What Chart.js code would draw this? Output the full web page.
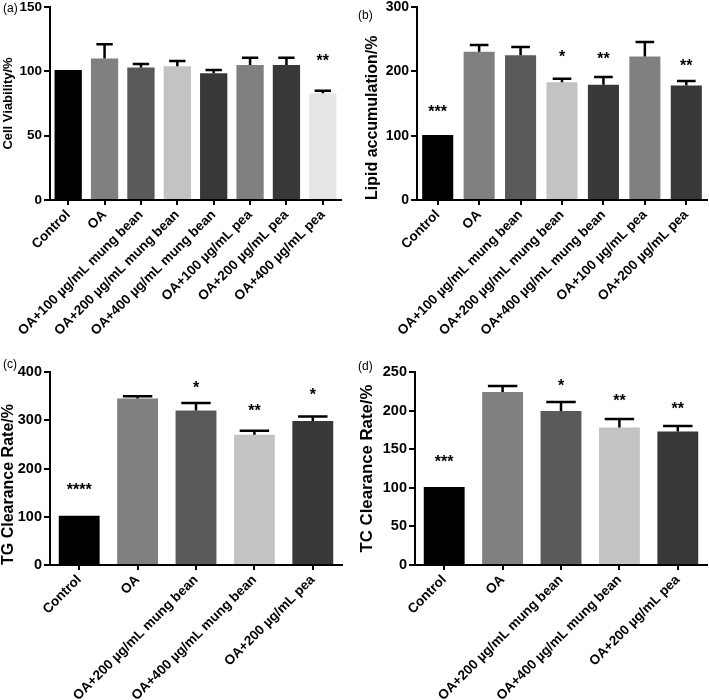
<!DOCTYPE html>
<html>
<head>
<meta charset="utf-8">
<script src="https://cdn.jsdelivr.net/npm/chart.js@4.4.0/dist/chart.umd.min.js"></script>
<style>
  body { margin: 0; background: #fff; width: 709px; height: 700px; position: relative; overflow: hidden; }
  canvas { position: absolute; }
  .tag { position: absolute; z-index: 2; font: 12px "Liberation Sans", Arial, sans-serif; color: #000; }
</style>
</head>
<body>
<canvas id="chartA" width="355" height="370" style="left:0;top:-12px"></canvas>
<canvas id="chartB" width="354" height="370" style="left:355px;top:-12px"></canvas>
<canvas id="chartC" width="355" height="350" style="left:0;top:350px"></canvas>
<canvas id="chartD" width="354" height="350" style="left:355px;top:350px"></canvas>

<div class="tag" style="left:3px;top:1px">(a)</div>
<div class="tag" style="left:358px;top:8px">(b)</div>
<div class="tag" style="left:3px;top:357px">(c)</div>
<div class="tag" style="left:358px;top:359px">(d)</div>

<script>
// --- data ---
const groupsA = ['Control', 'OA', 'OA+100 µg/mL mung bean', 'OA+200 µg/mL mung bean', 'OA+400 µg/mL mung bean',
                 'OA+100 µg/mL pea', 'OA+200 µg/mL pea', 'OA+400 µg/mL pea'];
const viability = [101, 110, 103, 104, 98.5, 105, 105, 83];
const viabilitySd = [0, 11, 2.7, 4, 2.5, 5.6, 5.6, 2];
const viabilityStars = ['', '', '', '', '', '', '', '**'];
const viabilityStarAt = [0, 0, 0, 0, 0, 0, 0, 111];

const groupsB = ['Control', 'OA', 'OA+100 µg/mL mung bean', 'OA+200 µg/mL mung bean', 'OA+400 µg/mL mung bean',
                 'OA+100 µg/mL pea', 'OA+200 µg/mL pea'];
const lipid = [101, 230.5, 225, 183, 179, 223, 178];
const lipidSd = [0, 10.5, 13, 5.6, 12, 22.6, 7];
const lipidStars = ['***', '', '', '*', '**', '', '**'];
const lipidStarAt = [143, 0, 0, 228, 225, 0, 215];

const groupsCD = ['Control', 'OA', 'OA+200 µg/mL mung bean', 'OA+400 µg/mL mung bean', 'OA+200 µg/mL pea'];
const tgClear = [102, 345, 320, 270, 298.5];
const tgSd = [0, 4.5, 16, 8, 9.5];
const tgStars = ['****', '', '*', '**', '*'];
const tgStarAt = [163, 0, 376, 327, 360];

const tcClear = [101, 224, 199.5, 178, 173];
const tcSd = [0, 8, 11.5, 11, 7];
const tcStars = ['***', '', '*', '**', '**'];
const tcStarAt = [139, 0, 237, 218, 207];

// --- палитра ---
const greys8 = ['#000000', '#808080', '#595959', '#c3c3c3', '#383838', '#808080', '#383838', '#e6e6e6'];
const greys5 = ['#000000', '#808080', '#5a5a5a', '#c3c3c3', '#383838'];

const FONT = '"Liberation Sans", Arial, sans-serif';

// error bars + significance stars
function marksPlugin(values, sd, stars, starAt, capRatio) {
    return {
        id: 'marks',
        afterDatasetsDraw(chart) {
            const ctx = chart.ctx;
            const y = chart.scales.y;
            const bars = chart.getDatasetMeta(0).data;
            ctx.save();
            ctx.strokeStyle = '#000';
            ctx.fillStyle = '#000';
            ctx.lineWidth = 2.5;
            ctx.font = 'bold 16px ' + FONT;
            ctx.textAlign = 'center';
            ctx.textBaseline = 'alphabetic';
            bars.forEach((bar, i) => {
                if (sd[i]) {
                    const top = y.getPixelForValue(values[i] + sd[i]);
                    const half = bar.width * capRatio / 2;
                    ctx.beginPath();
                    ctx.moveTo(bar.x, bar.y);
                    ctx.lineTo(bar.x, top);
                    ctx.moveTo(bar.x - half, top);
                    ctx.lineTo(bar.x + half, top);
                    ctx.stroke();
                }
                if (stars[i]) {
                    ctx.fillText(stars[i], bar.x, y.getPixelForValue(starAt[i]) + 9);
                }
            });
            ctx.restore();
        }
    };
}

function drawPanel(id, p) {
    new Chart(document.getElementById(id), {
        type: 'bar',
        data: {
            labels: p.labels,
            datasets: [{
                data: p.values,
                backgroundColor: p.colors,
                borderWidth: 0,
                categoryPercentage: 1,
                barPercentage: p.barPct
            }]
        },
        options: {
            responsive: false,
            animation: false,
            devicePixelRatio: 1,
            layout: { padding: { top: p.padTop, right: p.padRight, left: 0, bottom: 0 } },
            plugins: { legend: { display: false }, tooltip: { enabled: false } },
            scales: {
                x: {
                    z: 1,
                    grid: { offset: false, drawOnChartArea: false, tickLength: 5, color: '#000', lineWidth: 2 },
                    border: { color: '#000', width: 2 },
                    ticks: {
                        color: '#000', autoSkip: false, maxRotation: 45, minRotation: 45, padding: 2,
                        font: { family: FONT, weight: 'bold', size: p.xFont }
                    },
                    afterFit: s => { s.height = p.xHeight; }
                },
                y: {
                    z: 1,
                    min: 0, max: p.yMax,
                    grid: { drawOnChartArea: false, tickLength: 6, color: '#000', lineWidth: 2 },
                    border: { color: '#000', width: 2 },
                    ticks: {
                        stepSize: p.yStep, color: '#000', padding: 2,
                        font: { family: FONT, weight: 'bold', size: p.yFont, lineHeight: 1 }
                    },
                    title: {
                        display: true, text: p.yTitle, color: '#000', align: p.titleAlign,
                        padding: { top: p.titlePad, bottom: 0 },
                        font: { family: FONT, weight: 'bold', size: p.titleFont, lineHeight: 1 }
                    },
                    afterFit: s => { s.width = p.yWidth; }
                }
            }
        },
        plugins: [marksPlugin(p.values, p.sd, p.stars, p.starAt, p.cap)]
    });
}

drawPanel('chartA', {
    labels: groupsA, values: viability, sd: viabilitySd, stars: viabilityStars, starAt: viabilityStarAt,
    colors: greys8, barPct: 0.75, cap: 0.6,
    yMax: 150, yStep: 50, yTitle: 'Cell Viability/%', titleAlign: 'center',
    padTop: 19, padRight: 14, yWidth: 50, xHeight: 158,
    xFont: 13.5, yFont: 13.5, titleFont: 13, titlePad: 2
});
drawPanel('chartB', {
    labels: groupsB, values: lipid, sd: lipidSd, stars: lipidStars, starAt: lipidStarAt,
    colors: greys8.slice(0, 7), barPct: 0.75, cap: 0.6,
    yMax: 300, yStep: 100, yTitle: 'Lipid accumulation/%', titleAlign: 'start',
    padTop: 19, padRight: 2, yWidth: 62, xHeight: 158,
    xFont: 13.5, yFont: 14, titleFont: 16, titlePad: 10
});
drawPanel('chartC', {
    labels: groupsCD, values: tgClear, sd: tgSd, stars: tgStars, starAt: tgStarAt,
    colors: greys5, barPct: 0.7, cap: 0.72,
    yMax: 400, yStep: 100, yTitle: 'TG Clearance Rate/%', titleAlign: 'start',
    padTop: 22, padRight: 13, yWidth: 50, xHeight: 135,
    xFont: 13.5, yFont: 14.5, titleFont: 16, titlePad: 0.5
});
drawPanel('chartD', {
    labels: groupsCD, values: tcClear, sd: tcSd, stars: tcStars, starAt: tcStarAt,
    colors: greys5, barPct: 0.7, cap: 0.72,
    yMax: 250, yStep: 50, yTitle: 'TC Clearance Rate/%', titleAlign: 'center',
    padTop: 22, padRight: 2, yWidth: 60, xHeight: 135,
    xFont: 13.5, yFont: 14.5, titleFont: 16.8, titlePad: 4
});
</script>
</body>
</html>
